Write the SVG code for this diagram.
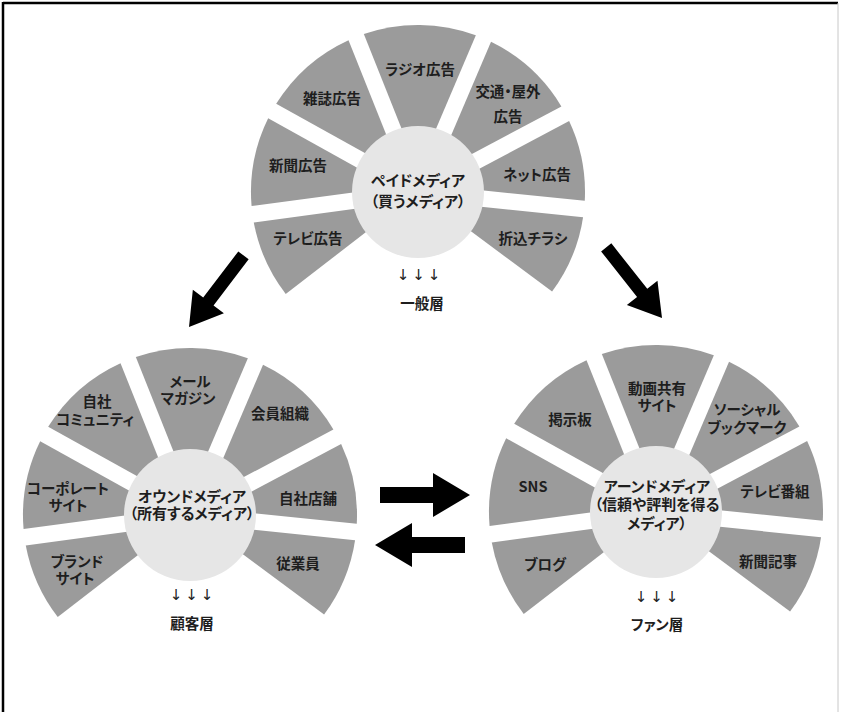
<svg xmlns="http://www.w3.org/2000/svg" xmlns:xlink="http://www.w3.org/1999/xlink" width="841" height="712" viewBox="0 0 841 712">
<style>
.w{fill:#9b9b9b}
.c{fill:#e6e6e6}
text{font-family:"Noto Sans CJK JP","Noto Sans CJK SC",sans-serif;font-size:14.5px;font-weight:700;fill:#1e1e1e;text-anchor:middle;dominant-baseline:central;font-feature-settings:"palt" 1}
.ctr{font-size:15px}
.dn{font-family:"DejaVu Sans",sans-serif;font-weight:400;font-size:15px;letter-spacing:3px;fill:#222}
.ar{fill:#000}
</style>
<defs>
<g id="fan">
<path class="w" d="M-132.26,101.95 A167,167 0 0 1 -164.22,30.45 L-13.08,10.08 Z"/>
<path class="w" d="M-166.42,14.09 A167,167 0 0 1 -149.83,-73.75 L-25.74,-4.86 Z"/>
<path class="w" d="M-141.83,-88.17 A167,167 0 0 1 -69.48,-151.86 L-16.25,-18.46 Z"/>
<path class="w" d="M-54.16,-157.98 A167,167 0 0 1 57.85,-156.66 L0.26,-21.62 Z"/>
<path class="w" d="M73.03,-150.18 A167,167 0 0 1 143.4,-85.59 L16.75,-18.25 Z"/>
<path class="w" d="M151.14,-71.03 A167,167 0 0 1 166.77,8.79 L27.81,-5.44 Z"/>
<path class="w" d="M165.09,25.21 A167,167 0 0 1 134.08,99.55 L12.96,9.62 Z"/>
<circle class="c" cx="0" cy="0" r="66"/>
</g>
<path id="arrD" class="ar" d="M-90,-6.5 L-32,-6.5 L-32,-19.5 L0,0 L-32,19.5 L-32,6.5 L-90,6.5 Z"/>
<path id="arrH" class="ar" d="M-90,-8 L-37,-8 L-37,-22 L0,0 L-37,22 L-37,8 L-90,8 Z"/>
</defs>
<rect x="0" y="0" width="841" height="712" fill="#fff"/>
<g id="frame" fill="none">
<line x1="3" y1="3" x2="838" y2="3" stroke="#000" stroke-width="2.5"/>
<line x1="3" y1="2" x2="3" y2="712" stroke="#000" stroke-width="2.5"/>
<line x1="838" y1="3" x2="838" y2="712" stroke="#c8c8c8" stroke-width="1"/>
</g>
<g id="paid-media" transform="translate(418,192)">
<use xlink:href="#fan" href="#fan"/>
<text x="2" y="-124">ラジオ広告</text>
<text x="-86" y="-95">雑誌広告</text>
<text x="90" y="-102">交通・屋外<tspan x="90" dy="25">広告</tspan></text>
<text x="-120" y="-28">新聞広告</text>
<text x="119" y="-19">ネット広告</text>
<text x="-110" y="45">テレビ広告</text>
<text x="115" y="45">折込チラシ</text>
<text class="ctr" x="0" y="-12.5">ペイドメディア<tspan x="0" dy="20.5">（買うメディア）</tspan></text>
<text class="dn" x="2" y="83">↓↓↓</text>
<text x="4" y="110">一般層</text>
</g>
<g id="owned-media" transform="translate(190,515)">
<use xlink:href="#fan" href="#fan"/>
<text x="0" y="-135">メール<tspan x="-2" dy="16.5">マガジン</tspan></text>
<text x="-93" y="-115">自社<tspan x="-95" dy="17.5">コミュニティ</tspan></text>
<text x="90" y="-103">会員組織</text>
<text x="-122" y="-28">コーポレート<tspan x="-122" dy="16.5">サイト</tspan></text>
<text x="118" y="-18">自社店舗</text>
<text x="-113" y="45">ブランド<tspan x="-115" dy="16.7">サイト</tspan></text>
<text x="108" y="47">従業員</text>
<text class="ctr" x="2" y="-20">オウンドメディア<tspan x="2" dy="16.7">（所有するメディア）</tspan></text>
<text class="dn" x="3" y="80">↓↓↓</text>
<text x="2" y="107">顧客層</text>
</g>
<g id="earned-media" transform="translate(656,512)">
<use xlink:href="#fan" href="#fan"/>
<text x="1" y="-125">動画共有<tspan x="1" dy="17.3">サイト</tspan></text>
<text x="-86" y="-94">掲示板</text>
<text x="91" y="-104">ソーシャル<tspan x="91" dy="18.4">ブックマーク</tspan></text>
<text x="-123" y="-27">SNS</text>
<text x="119" y="-22">テレビ番組</text>
<text class="ctr" x="1" y="-27">アーンドメディア<tspan x="1" dy="18.3">（信頼や評判を得る</tspan><tspan x="1" dy="18.4">メディア）</tspan></text>
<text x="-111" y="51">ブログ</text>
<text x="112" y="48">新聞記事</text>
<text class="dn" x="2" y="85">↓↓↓</text>
<text x="1" y="111">ファン層</text>
</g>
<g id="connectors">
<use xlink:href="#arrD" href="#arrD" transform="translate(189,327) rotate(127.25)"/>
<use xlink:href="#arrD" href="#arrD" transform="translate(662,318) rotate(51.7)"/>
<use xlink:href="#arrH" href="#arrH" transform="translate(470,495)"/>
<use xlink:href="#arrH" href="#arrH" transform="translate(375,545) rotate(180)"/>
</g>
</svg>
